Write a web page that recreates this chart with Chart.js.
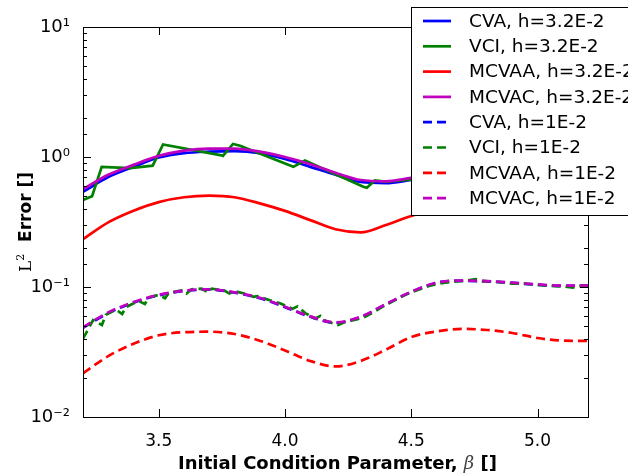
<!DOCTYPE html>
<html>
<head>
<meta charset="utf-8">
<script src="https://cdn.jsdelivr.net/npm/chart.js@4.4.0/dist/chart.umd.min.js"></script>
<style>
  html, body { margin: 0; padding: 0; background: #fff; }
  canvas { display: block; }
</style>
</head>
<body>
<canvas id="errChart" width="628" height="474"></canvas>
<script>
// ---- values ----
const betaGrid = [3.2, 3.3, 3.4, 3.5, 3.6, 3.7, 3.8, 3.9, 4.0, 4.1, 4.2, 4.3, 4.4, 4.5, 4.6, 4.7, 4.8, 4.9, 5.0, 5.1, 5.2];

// h = 3.2E-2
const cvaCoarse   = [0.54, 0.70, 0.84, 0.99, 1.07, 1.10, 1.11, 1.07, 0.965, 0.84, 0.73, 0.643, 0.63, 0.665, 0.70, 0.74, 0.77, 0.78, 0.78, 0.77, 0.76];
const mcvaaCoarse = [0.233, 0.314, 0.386, 0.45, 0.49, 0.504, 0.49, 0.44, 0.385, 0.327, 0.278, 0.263, 0.30, 0.352, 0.40, 0.44, 0.46, 0.46, 0.45, 0.44, 0.43];
const mcvacCoarse = [0.565, 0.73, 0.87, 1.02, 1.12, 1.16, 1.16, 1.10, 1.0, 0.88, 0.757, 0.665, 0.65, 0.69, 0.73, 0.77, 0.80, 0.81, 0.81, 0.80, 0.79];
const vciCoarseBeta = [3.2, 3.236, 3.274, 3.386, 3.476, 3.517, 3.743, 3.754, 3.794, 3.822, 4.033, 4.079, 4.31, 4.324, 4.356, 4.403, 4.495, 4.56, 4.58, 4.80, 4.82, 5.05, 5.07, 5.2];
const vciCoarse     = [0.467, 0.50, 0.84, 0.82, 0.857, 1.25, 1.035, 1.02, 1.26, 1.22, 0.84, 0.94, 0.59, 0.58, 0.66, 0.645, 0.67, 0.68, 0.76, 0.74, 0.82, 0.76, 0.80, 0.78];

// h = 1E-2
const cvaFine   = [0.0485, 0.063, 0.0758, 0.0863, 0.093, 0.0955, 0.0905, 0.082, 0.070, 0.059, 0.053, 0.0587, 0.0735, 0.0915, 0.1075, 0.1115, 0.1105, 0.1075, 0.104, 0.102, 0.1025];
const mcvaaFine = [0.0217, 0.0294, 0.0366, 0.0425, 0.0449, 0.0453, 0.0435, 0.0386, 0.0325, 0.027, 0.0245, 0.027, 0.033, 0.0412, 0.0455, 0.0476, 0.0467, 0.0443, 0.0405, 0.0387, 0.0385];
const mcvacFine = [0.049, 0.0638, 0.0765, 0.087, 0.0937, 0.096, 0.091, 0.0826, 0.0706, 0.0594, 0.0534, 0.0591, 0.074, 0.092, 0.108, 0.112, 0.111, 0.108, 0.1047, 0.1023, 0.103];
const vciFineBeta = [3.20, 3.24, 3.275, 3.29, 3.33, 3.355, 3.37, 3.42, 3.445, 3.46, 3.50, 3.525, 3.54, 3.59, 3.61, 3.63, 3.67, 3.695, 3.71, 3.76, 3.78, 3.80, 3.85, 3.875, 3.89, 3.94, 3.96, 3.98, 4.03, 4.05, 4.08, 4.12, 4.14, 4.16, 4.21, 4.24, 4.28, 4.31, 4.35, 4.40, 4.44, 4.48, 4.52, 4.57, 4.62, 4.67, 4.72, 4.755, 4.78, 4.83, 4.87, 4.90, 4.95, 5.00, 5.05, 5.10, 5.14, 5.17, 5.20];
const vciFine     = [0.040, 0.0557, 0.051, 0.061, 0.067, 0.062, 0.070, 0.078, 0.074, 0.083, 0.087, 0.082, 0.090, 0.094, 0.089, 0.096, 0.097, 0.091, 0.097, 0.094, 0.089, 0.093, 0.088, 0.084, 0.085, 0.079, 0.077, 0.075, 0.068, 0.071, 0.063, 0.057, 0.060, 0.055, 0.051, 0.054, 0.056, 0.058, 0.064, 0.073, 0.080, 0.088, 0.094, 0.102, 0.107, 0.110, 0.112, 0.115, 0.111, 0.110, 0.108, 0.106, 0.106, 0.104, 0.102, 0.101, 0.099, 0.102, 0.103];

const seriesLabels = [
  'CVA, h=3.2E-2', 'VCI, h=3.2E-2', 'MCVAA, h=3.2E-2', 'MCVAC, h=3.2E-2',
  'CVA, h=1E-2', 'VCI, h=1E-2', 'MCVAA, h=1E-2', 'MCVAC, h=1E-2'
];

const xTickValues = [3.5, 4.0, 4.5, 5.0];
const yTickValues = [0.01, 0.1, 1, 10];
const yTickLabels = ['10\u207B\u00B2', '10\u207B\u00B9', '10\u2070', '10\u00B9'];

const FONT = '"DejaVu Sans", sans-serif';

function pts(xs, ys) {
  return xs.map((x, i) => ({ x: x, y: ys[i] }));
}

function isDecade(v) {
  const l = Math.log10(v);
  return Math.abs(l - Math.round(l)) < 1e-6;
}

function line(label, data, color, dashed, smooth, order) {
  return {
    label: label,
    data: data,
    borderColor: color,
    backgroundColor: color,
    borderWidth: 2.7,
    borderDash: dashed ? [9, 5] : [],
    pointRadius: 0,
    fill: false,
    cubicInterpolationMode: smooth ? 'monotone' : 'default',
    tension: 0,
    order: order
  };
}

// ---- frame with inward ticks (matplotlib style) ----
const framePlugin = {
  id: 'frame',
  afterDatasetsDraw(chart) {
    const { ctx, chartArea: a, scales: { x, y } } = chart;
    ctx.save();
    ctx.strokeStyle = '#000';
    ctx.lineWidth = 1;
    ctx.beginPath();
    y.ticks.forEach(t => {
      const py = Math.round(y.getPixelForValue(t.value)) + 0.5;
      const len = isDecade(t.value) ? 8 : 4;
      ctx.moveTo(a.left, py); ctx.lineTo(a.left + len, py);
      ctx.moveTo(a.right, py); ctx.lineTo(a.right - len, py);
    });
    x.ticks.forEach(t => {
      const px = Math.round(x.getPixelForValue(t.value)) + 0.5;
      ctx.moveTo(px, a.bottom); ctx.lineTo(px, a.bottom - 8);
      ctx.moveTo(px, a.top); ctx.lineTo(px, a.top + 8);
    });
    ctx.stroke();
    ctx.strokeRect(Math.round(a.left) + 0.5, Math.round(a.top) + 0.5,
                   Math.round(a.right - a.left), Math.round(a.bottom - a.top));
    ctx.restore();
  }
};

// ---- axis titles with mixed fonts ----
const titlesPlugin = {
  id: 'axisTitles',
  afterDraw(chart) {
    const { ctx, chartArea: a } = chart;
    ctx.save();
    ctx.fillStyle = '#000';
    ctx.textBaseline = 'alphabetic';

    // x title
    const parts = [
      { t: 'Initial Condition Parameter, ', f: 'bold 18px ' + FONT },
      { t: '\u03B2', f: 'italic 18px "DejaVu Serif", serif', c: '#444' },
      { t: ' []', f: 'bold 18px ' + FONT }
    ];
    let w = 0;
    parts.forEach(p => { ctx.font = p.f; p.w = ctx.measureText(p.t).width; w += p.w; });
    let cx = (a.left + a.right) / 2 + 2 - w / 2;
    parts.forEach(p => {
      ctx.font = p.f;
      ctx.fillStyle = p.c || '#000';
      ctx.fillText(p.t, cx, 469);
      cx += p.w;
    });

    // y title (rotated)
    ctx.translate(31, 222);
    ctx.rotate(-Math.PI / 2);
    ctx.fillStyle = '#000';
    const yParts = [
      { t: 'L', f: '17px "DejaVu Serif", serif', dy: 0 },
      { t: '2', f: '11px "DejaVu Serif", serif', dy: -7 },
      { t: '  Error []', f: 'bold 17px ' + FONT, dy: 0 }
    ];
    w = 0;
    yParts.forEach(p => { ctx.font = p.f; p.w = ctx.measureText(p.t).width; w += p.w; });
    cx = -w / 2;
    yParts.forEach(p => {
      ctx.font = p.f;
      ctx.fillText(p.t, cx, p.dy);
      cx += p.w;
    });
    ctx.restore();
  }
};

// ---- boxed legend in the upper right, partly off the canvas ----
const legendPlugin = {
  id: 'boxLegend',
  afterDraw(chart) {
    const ctx = chart.ctx;
    const left = 411.5, top = 7.5, rowH = 25.3;
    ctx.save();
    ctx.fillStyle = '#fff';
    ctx.strokeStyle = '#000';
    ctx.lineWidth = 1;
    ctx.fillRect(left, top, 240, 208);
    ctx.strokeRect(left, top, 240, 208);
    ctx.font = '18.5px ' + FONT;
    ctx.textBaseline = 'middle';
    chart.data.datasets.forEach((ds, i) => {
      const cy = 21 + i * rowH;
      ctx.strokeStyle = ds.borderColor;
      ctx.lineWidth = ds.borderWidth;
      ctx.setLineDash(ds.borderDash);
      ctx.beginPath();
      ctx.moveTo(423, cy);
      ctx.lineTo(ds.borderDash.length ? 446 : 451, cy);
      ctx.stroke();
      ctx.setLineDash([]);
      ctx.fillStyle = '#000';
      ctx.fillText(ds.label, 469, cy + 1);
    });
    ctx.restore();
  }
};

const ctx = document.getElementById('errChart').getContext('2d');
new Chart(ctx, {
  type: 'line',
  data: {
    datasets: [
      line(seriesLabels[0], pts(betaGrid, cvaCoarse),        '#0000ff', false, true, 8),
      line(seriesLabels[1], pts(vciCoarseBeta, vciCoarse),   '#008000', false, false, 7),
      line(seriesLabels[2], pts(betaGrid, mcvaaCoarse),      '#ff0000', false, true, 6),
      line(seriesLabels[3], pts(betaGrid, mcvacCoarse),      '#bf00bf', false, true, 5),
      line(seriesLabels[4], pts(betaGrid, cvaFine),          '#0000ff', true, true, 4),
      line(seriesLabels[5], pts(vciFineBeta, vciFine),       '#008000', true, false, 3),
      line(seriesLabels[6], pts(betaGrid, mcvaaFine),        '#ff0000', true, true, 2),
      line(seriesLabels[7], pts(betaGrid, mcvacFine),        '#bf00bf', true, true, 1)
    ]
  },
  options: {
    responsive: false,
    animation: false,
    devicePixelRatio: 1,
    layout: { padding: { left: 0, right: 40, top: 27, bottom: 0 } },
    plugins: {
      legend: { display: false },
      tooltip: { enabled: false }
    },
    scales: {
      x: {
        type: 'linear',
        min: 3.2,
        max: 5.2,
        grid: { display: false },
        border: { display: false },
        afterBuildTicks: scale => { scale.ticks = xTickValues.map(v => ({ value: v })); },
        afterFit: scale => { scale.height = 57; },
        ticks: {
          color: '#000',
          padding: 6,
          font: { family: FONT, size: 17 },
          maxRotation: 0,
          autoSkip: false,
          callback: v => v.toFixed(1)
        }
      },
      y: {
        type: 'logarithmic',
        min: 0.01,
        max: 10,
        grid: { display: false },
        border: { display: false },
        afterFit: scale => { scale.width = 83; },
        ticks: {
          color: '#000',
          padding: 5,
          font: { family: FONT, size: 18 },
          autoSkip: false,
          callback: v => {
            const i = yTickValues.findIndex(t => Math.abs(Math.log10(t) - Math.log10(v)) < 1e-6);
            return i >= 0 ? yTickLabels[i] : '';
          }
        }
      }
    }
  },
  plugins: [framePlugin, titlesPlugin, legendPlugin]
});
</script>
</body>
</html>
